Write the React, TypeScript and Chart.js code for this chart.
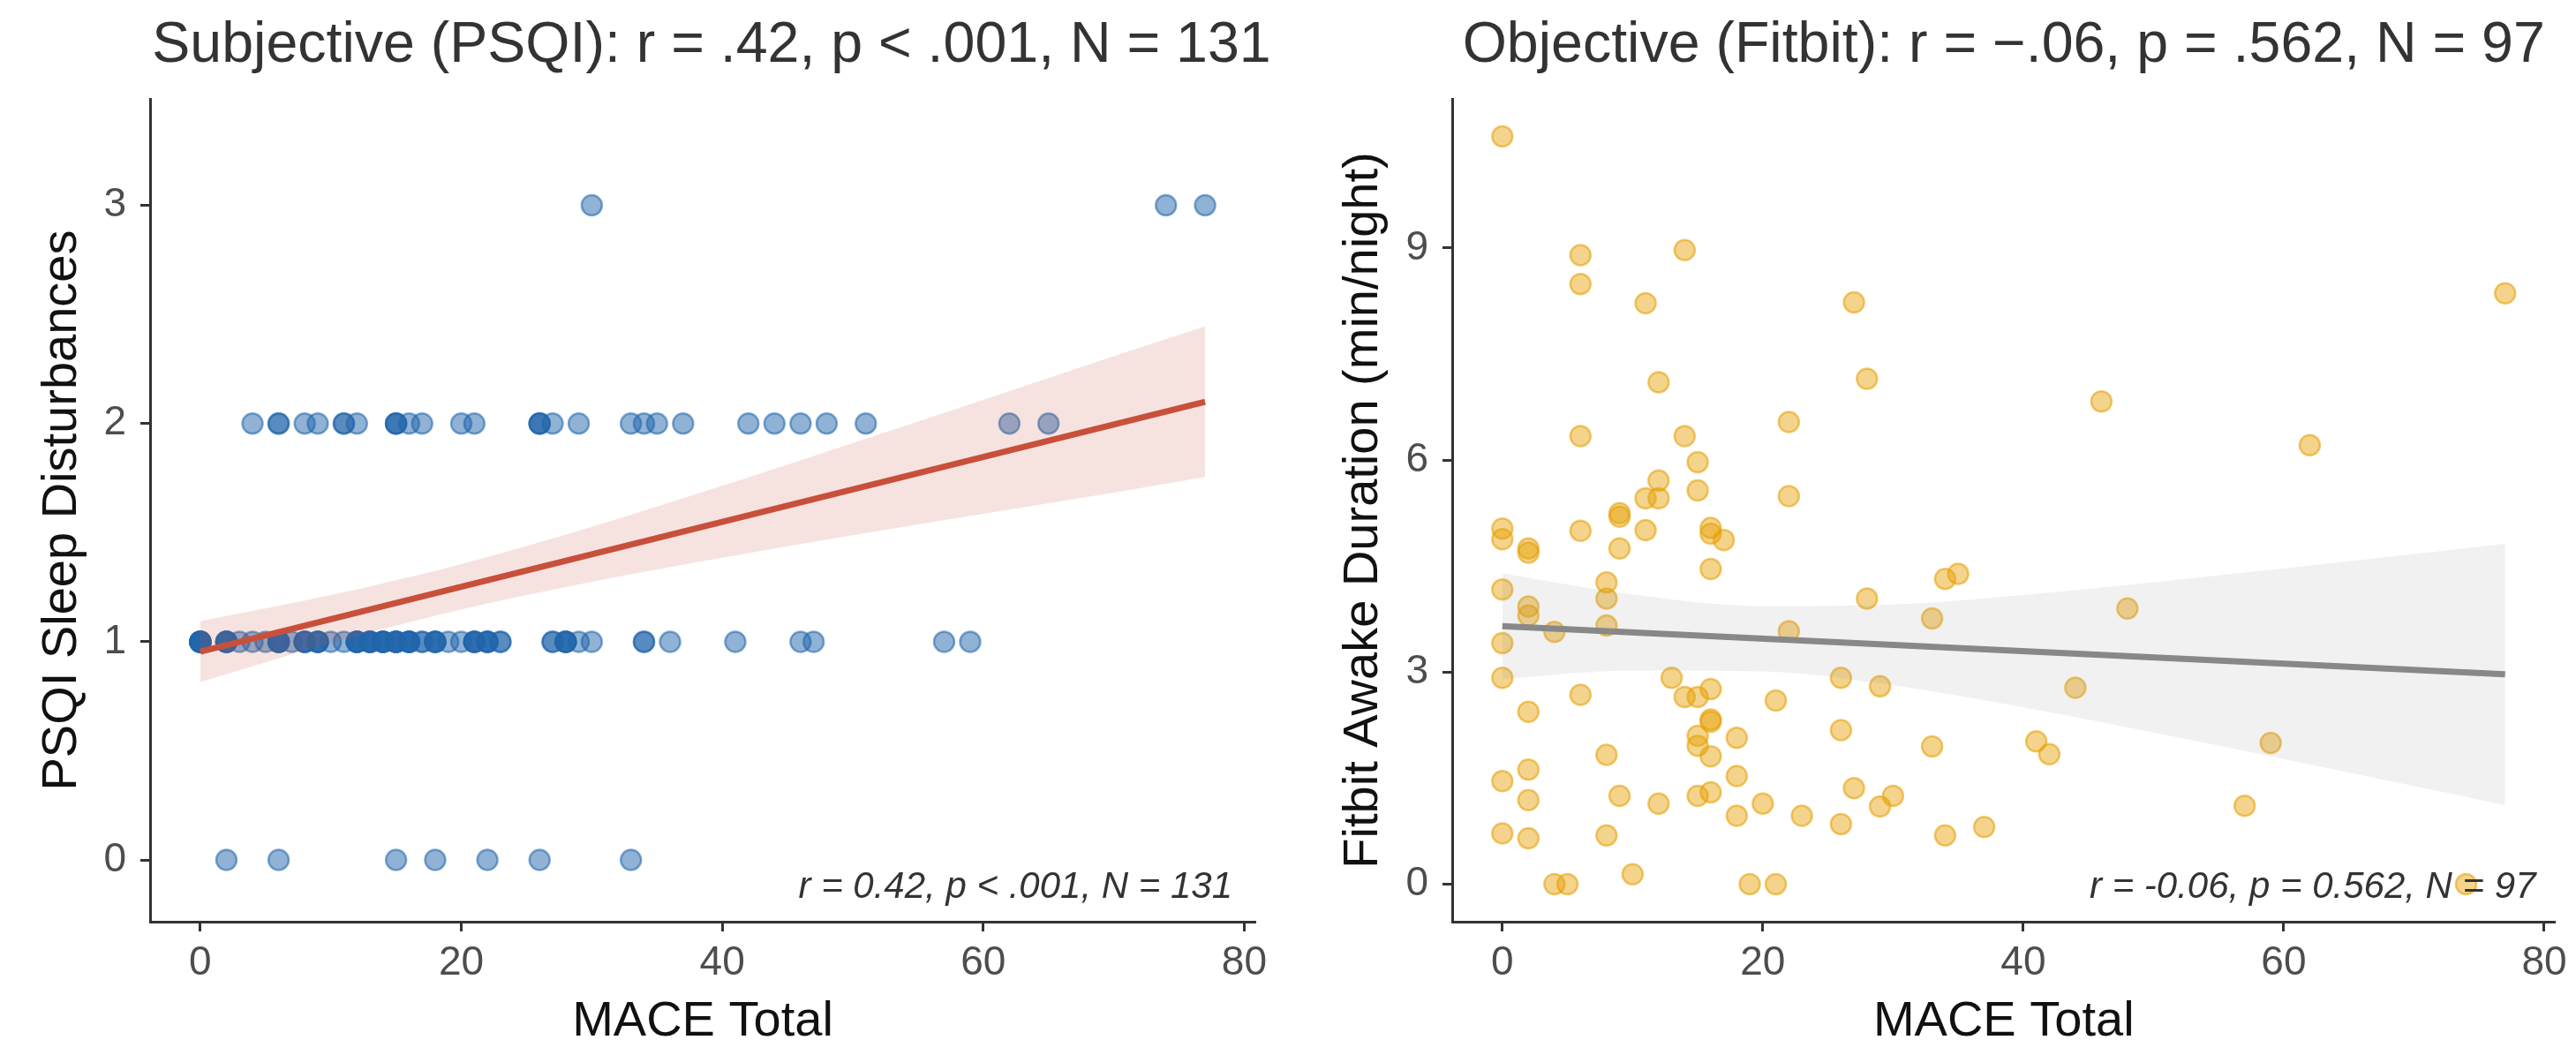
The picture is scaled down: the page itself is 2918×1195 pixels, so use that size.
import React, { useEffect, useRef } from "react";
import { Chart, registerables } from "chart.js";

Chart.register(...registerables);

const FONT = '"Liberation Sans", Arial, Helvetica, sans-serif';

// ---------- tick labels ----------
const maceTicks = [0, 20, 40, 60, 80];
const psqiTicks = [0, 1, 2, 3];
const fitbitTicks = [0, 3, 6, 9];

// ---------- Subjective (PSQI) : MACE Total per PSQI level ----------
const psqiLevel0 = [2, 6, 15, 18, 22, 26, 33];
const psqiLevel1 = [
  0, 0, 0, 0, 0, 0, 0,
  2, 2, 2, 2, 2,
  3, 4, 5,
  6, 6, 6, 6, 6,
  7,
  8, 8, 8, 8,
  9, 9, 9, 9,
  10, 11,
  12, 12, 12, 12, 12,
  13, 13, 13, 13, 13,
  14, 14, 14, 14, 14,
  15, 15, 15, 15, 15,
  16, 16, 16, 16, 16,
  17, 17,
  18, 18, 18, 18,
  19, 20,
  21, 21, 21, 21,
  22, 22, 22, 22,
  23, 23,
  27, 27,
  28, 28, 28, 28,
  29, 30,
  34, 34,
  36, 41, 46, 47, 57, 59,
];
const psqiLevel2 = [
  4, 6, 6, 8, 9, 11, 11, 12, 15, 15, 15, 16, 17, 20, 21, 26, 26, 26, 27, 29,
  33, 34, 35, 37, 42, 44, 46, 48, 51, 62, 65,
];
const psqiLevel3 = [30, 74, 77];

// PSQI regression line and 95% band
const psqiFitX = [0, 77];
const psqiFitY = [0.955, 2.1];
const psqiBandX = [0, 10, 20, 30, 40, 50, 60, 70, 77];
const psqiBandLo = [0.815, 0.994, 1.148, 1.275, 1.385, 1.488, 1.586, 1.683, 1.755];
const psqiBandHi = [1.095, 1.214, 1.356, 1.527, 1.715, 1.91, 2.108, 2.309, 2.445];

// ---------- Objective (Fitbit) ----------
const fitbitX = [
  0, 6, 14, 6, 11, 27, 12, 28, 22, 6, 14, 15, 12, 15, 22, 11, 12,
  77, 46, 62,
  0, 0, 2, 2, 6, 9, 9, 11, 9, 16, 16, 17, 16, 0, 8, 8, 2, 2, 4, 8, 0, 22, 28, 34, 35, 33,
  0, 13, 26, 29, 6, 14, 15, 16, 21, 2, 16, 16, 15, 15, 16, 18, 26, 33, 8, 2, 0, 18, 9, 12, 15, 16,
  2, 20, 27, 29, 30, 18, 23, 26, 0, 2, 8, 34, 37, 4, 5, 10, 19, 21,
  48, 44, 41, 42, 59, 57, 74,
];
const fitbitY = [
  10.58, 8.9, 8.97, 8.49, 8.22, 8.23, 7.1, 7.15, 6.54, 6.34, 6.34, 5.97, 5.71, 5.57, 5.49, 5.46, 5.46,
  8.36, 6.83, 6.21,
  5.03, 4.88, 4.75, 4.69, 5.0, 5.25, 5.2, 5.01, 4.75, 5.04, 4.96, 4.87, 4.46, 4.17, 4.27, 4.04, 3.93, 3.8, 3.57, 3.66, 3.41, 3.58, 4.04, 4.32, 4.39, 3.76,
  2.92, 2.92, 2.92, 2.8, 2.68, 2.65, 2.65, 2.76, 2.6, 2.44, 2.33, 2.3, 2.1, 1.96, 1.81, 2.07, 2.18, 1.95, 1.83, 1.62, 1.46, 1.53, 1.25, 1.14, 1.25, 1.3,
  1.19, 1.14, 1.36, 1.1, 1.25, 0.97, 0.97, 0.85, 0.72, 0.65, 0.69, 0.69, 0.81, 0, 0, 0.14, 0, 0,
  3.9, 2.78, 2.02, 1.84, 2.0, 1.11, 0,
];

const fitbitFitX = [0, 77];
const fitbitFitY = [3.65, 2.97];
const fitbitBandX = [0, 10, 20, 30, 40, 50, 60, 70, 77];
const fitbitBandLo = [2.904, 3.024, 3.012, 2.813, 2.502, 2.146, 1.772, 1.391, 1.12];
const fitbitBandHi = [4.396, 4.099, 3.934, 3.957, 4.092, 4.271, 4.468, 4.673, 4.82];

// ---------- helpers ----------
const zip = (xs: number[], ys: number[]) => xs.map((x, i) => ({ x, y: ys[i] }));
const row = (xs: number[], level: number) => xs.map((x) => ({ x, y: level }));

const panelText = {
  id: "panelText",
  afterDraw(chart: any, _args: any, opts: any) {
    const { ctx, chartArea } = chart;
    ctx.save();
    ctx.fillStyle = "#333333";
    ctx.font = `64.5px ${FONT}`;
    ctx.textAlign = "center";
    ctx.textBaseline = "middle";
    ctx.fillText(opts.title, (chartArea.left + chartArea.right) / 2 + opts.titleShift, opts.titleY);
    ctx.font = `italic 42px ${FONT}`;
    ctx.textAlign = "right";
    ctx.fillText(opts.note, chartArea.right - opts.noteRight, chartArea.bottom - opts.noteUp);
    ctx.restore();
  },
};

type PanelCfg = {
  points: { x: number; y: number }[];
  pointFill: string;
  pointBorder: string;
  fit: { x: number; y: number }[];
  fitColor: string;
  bandLo: { x: number; y: number }[];
  bandHi: { x: number; y: number }[];
  bandColor: string;
  yMin: number;
  yMax: number;
  yTicks: number[];
  yTitle: string;
  yWidth: number;
  yTitlePad: number;
  rightPad: number;
  title: string;
  titleShift: number;
  note: string;
  noteRight: number;
};

function buildConfig(c: PanelCfg): any {
  const axisColor = "#333333";
  const tickText = "#4d4d4d";
  return {
    type: "scatter",
    data: {
      datasets: [
        {
          type: "line",
          data: c.fit,
          borderColor: c.fitColor,
          borderWidth: 7,
          pointRadius: 0,
          fill: false,
          order: 1,
        },
        {
          type: "line",
          data: c.bandHi,
          borderWidth: 0,
          borderColor: "rgba(0,0,0,0)",
          backgroundColor: c.bandColor,
          pointRadius: 0,
          fill: "+1",
          cubicInterpolationMode: "monotone",
          order: 2,
        },
        {
          type: "line",
          data: c.bandLo,
          borderWidth: 0,
          borderColor: "rgba(0,0,0,0)",
          pointRadius: 0,
          fill: false,
          cubicInterpolationMode: "monotone",
          order: 2,
        },
        {
          type: "scatter",
          data: c.points,
          pointRadius: 11.5,
          pointBorderWidth: 2.5,
          backgroundColor: c.pointFill,
          borderColor: c.pointBorder,
          order: 3,
        },
      ],
    },
    options: {
      animation: false,
      responsive: false,
      devicePixelRatio: 1,
      events: [],
      layout: {
        autoPadding: false,
        padding: { top: 112, right: c.rightPad, left: 0, bottom: 0 },
      },
      plugins: {
        legend: { display: false },
        tooltip: { enabled: false },
        panelText: {
          title: c.title,
          titleShift: c.titleShift,
          titleY: 52,
          note: c.note,
          noteRight: c.noteRight,
          noteUp: 39,
        },
      },
      scales: {
        x: {
          type: "linear",
          min: -3.85,
          max: 80.85,
          afterBuildTicks: (s: any) => {
            s.ticks = maceTicks.map((v) => ({ value: v }));
          },
          afterFit: (s: any) => {
            s.height = 151;
          },
          border: { display: true, color: axisColor, width: 3 },
          grid: {
            drawOnChartArea: false,
            drawTicks: true,
            tickLength: 11,
            tickColor: axisColor,
            tickWidth: 3,
          },
          ticks: {
            color: tickText,
            font: { family: FONT, size: 46 },
            padding: 9,
            maxRotation: 0,
            autoSkip: false,
            callback: (v: any) => String(v),
          },
          title: {
            display: true,
            text: "MACE Total",
            color: "#111111",
            font: { family: FONT, size: 56, lineHeight: 1 },
            padding: { top: 0, bottom: 9 },
          },
        },
        y: {
          type: "linear",
          min: c.yMin,
          max: c.yMax,
          afterBuildTicks: (s: any) => {
            s.ticks = c.yTicks.map((v) => ({ value: v }));
          },
          afterFit: (s: any) => {
            s.width = c.yWidth;
          },
          border: { display: true, color: axisColor, width: 3 },
          grid: {
            drawOnChartArea: false,
            drawTicks: true,
            tickLength: 11,
            tickColor: axisColor,
            tickWidth: 3,
          },
          ticks: {
            color: tickText,
            font: { family: FONT, size: 46 },
            padding: 16,
            autoSkip: false,
            callback: (v: any) => String(v),
          },
          title: {
            display: true,
            text: c.yTitle,
            color: "#111111",
            font: { family: FONT, size: 56, lineHeight: 1 },
            padding: { top: c.yTitlePad, bottom: 0 },
          },
        },
      },
    },
    plugins: [panelText],
  };
}

const W = 1459;
const H = 1195;

function Panel({ cfg, left }: { cfg: PanelCfg; left: number }) {
  const ref = useRef<HTMLCanvasElement | null>(null);
  useEffect(() => {
    const chart = new Chart(ref.current as HTMLCanvasElement, buildConfig(cfg));
    return () => chart.destroy();
  }, []);
  return (
    <canvas
      ref={ref}
      width={W}
      height={H}
      style={{ position: "absolute", left, top: 0, width: W, height: H }}
    />
  );
}

const psqiPanel: PanelCfg = {
  points: [
    ...row(psqiLevel0, 0),
    ...row(psqiLevel1, 1),
    ...row(psqiLevel2, 2),
    ...row(psqiLevel3, 3),
  ],
  pointFill: "rgba(33,102,172,0.5)",
  pointBorder: "rgba(33,102,172,0.55)",
  fit: zip(psqiFitX, psqiFitY),
  fitColor: "#c8503b",
  bandLo: zip(psqiBandX, psqiBandLo),
  bandHi: zip(psqiBandX, psqiBandHi),
  bandColor: "rgba(200,80,60,0.16)",
  yMin: -0.283,
  yMax: 3.488,
  yTicks: psqiTicks,
  yTitle: "PSQI Sleep Disturbances",
  yWidth: 170,
  yTitlePad: 43,
  rightPad: 37,
  title: "Subjective (PSQI): r = .42, p < .001, N = 131",
  titleShift: 10,
  note: "r = 0.42, p < .001, N = 131",
  noteRight: 26,
};

const fitbitPanel: PanelCfg = {
  points: zip(fitbitX, fitbitY),
  pointFill: "rgba(230,159,0,0.45)",
  pointBorder: "rgba(230,159,0,0.55)",
  fit: zip(fitbitFitX, fitbitFitY),
  fitColor: "#888888",
  bandLo: zip(fitbitBandX, fitbitBandLo),
  bandHi: zip(fitbitBandX, fitbitBandHi),
  bandColor: "rgba(150,150,150,0.13)",
  yMin: -0.53,
  yMax: 11.11,
  yTicks: fitbitTicks,
  yTitle: "Fitbit Awake Duration (min/night)",
  yWidth: 186,
  yTitlePad: 58,
  rightPad: 23.5,
  title: "Objective (Fitbit): r = \u2212.06, p = .562, N = 97",
  titleShift: 0,
  note: "r = -0.06, p = 0.562, N = 97",
  noteRight: 22,
};

export default function App() {
  return (
    <div
      style={{
        position: "absolute",
        left: 0,
        top: 0,
        width: 2918,
        height: 1195,
        background: "#ffffff",
        overflow: "hidden",
      }}
    >
      <Panel cfg={psqiPanel} left={0} />
      <Panel cfg={fitbitPanel} left={W} />
    </div>
  );
}
